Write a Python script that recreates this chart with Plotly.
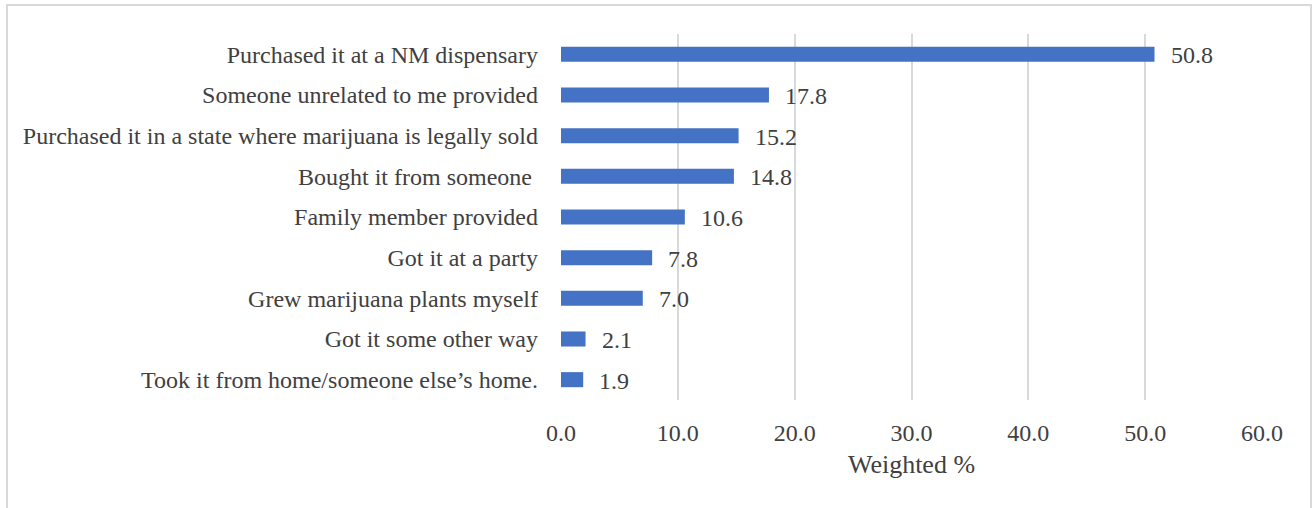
import plotly.graph_objects as go

categories = [
    "Purchased it at a NM dispensary",
    "Someone unrelated to me provided",
    "Purchased it in a state where marijuana is legally sold",
    "Bought it from someone ",
    "Family member provided",
    "Got it at a party",
    "Grew marijuana plants myself",
    "Got it some other way",
    "Took it from home/someone else\u2019s home.",
]
values = [50.8, 17.8, 15.2, 14.8, 10.6, 7.8, 7.0, 2.1, 1.9]
tick_vals = [0, 10, 20, 30, 40, 50, 60]
tick_text = ["0.0", "10.0", "20.0", "30.0", "40.0", "50.0", "60.0"]

W, H = 1315, 508
L, R, T, B = 561, 53, 34, 108
pw, ph = W - L - R, H - T - B

font_family = "Liberation Serif, Times New Roman, serif"
fs = 24
txt_color = "#404040"

fig = go.Figure(go.Bar(
    x=values, y=categories, orientation="h",
    marker=dict(color="#4472C4", line=dict(width=0)),
    width=0.37, hoverinfo="skip",
))

for c, v in zip(categories, values):
    fig.add_annotation(x=v, y=c, text=f"{v:.1f}", showarrow=False,
                       xanchor="left", xshift=14, yshift=-1,
                       font=dict(family=font_family, size=fs, color=txt_color))

def px_x(p):
    return (p - L) / pw

def px_y(p):
    return (H - B - p) / ph

fig.add_shape(type="rect", xref="paper", yref="paper",
              x0=px_x(7), x1=px_x(1311), y0=px_y(530), y1=px_y(5),
              line=dict(color="#d9d9d9", width=2), fillcolor="rgba(0,0,0,0)",
              layer="below")

fig.update_layout(
    width=W, height=H,
    margin=dict(l=L, r=R, t=T, b=B, pad=0),
    paper_bgcolor="white", plot_bgcolor="white",
    showlegend=False,
    font=dict(family=font_family, size=fs, color=txt_color),
    xaxis=dict(range=[0, 60], tickvals=tick_vals, ticktext=tick_text,
               showgrid=True, gridcolor="#d9d9d9", gridwidth=1.5,
               zeroline=False, showline=False, ticks="",
               ticklabelstandoff=16,
               title=dict(text="Weighted %", standoff=9,
                          font=dict(family=font_family, size=26, color=txt_color)),
               tickfont=dict(family=font_family, size=fs, color=txt_color)),
    yaxis=dict(autorange="reversed", showgrid=False, zeroline=False,
               showline=False, ticks="", ticklabelstandoff=22,
               tickfont=dict(family=font_family, size=fs, color=txt_color)),
)

fig.write_html("out.html")
